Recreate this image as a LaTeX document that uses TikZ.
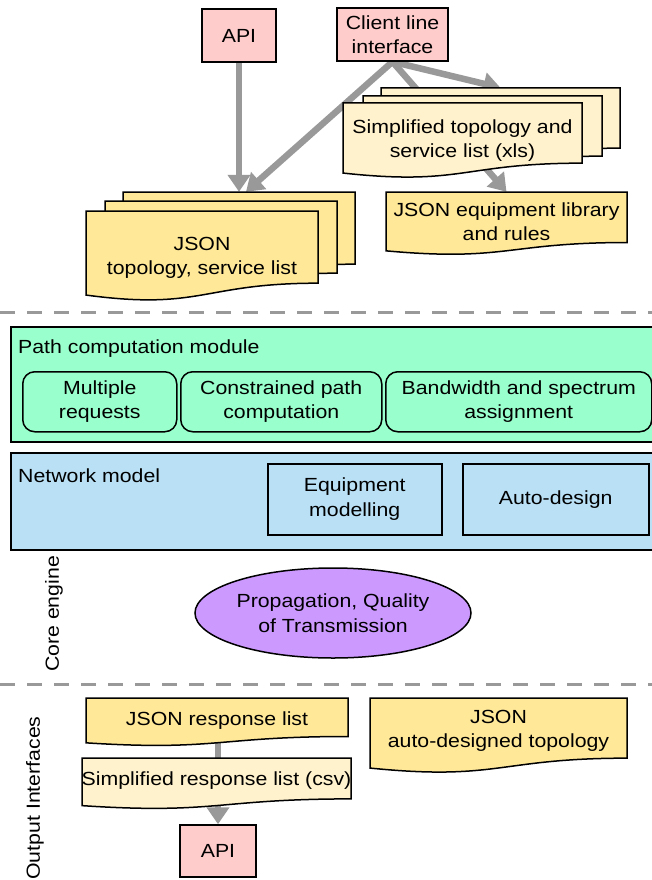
\documentclass[tikz,border=0pt]{standalone}
\usepackage{fontspec}
\setmainfont[FakeStretch=1.12]{Liberation Sans}
\usetikzlibrary{arrows.meta,shapes.geometric,backgrounds,calc}
\definecolor{pinkc}{HTML}{FFCCCC}
\definecolor{jsonc}{HTML}{FFE999}
\definecolor{lightc}{HTML}{FFF2CC}
\definecolor{mintc}{HTML}{99FFCC}
\definecolor{bluec}{HTML}{B9E0F5}
\definecolor{violc}{HTML}{CC99FF}
\definecolor{grayc}{HTML}{999999}
\tikzset{
  docline/.style={draw=black, line width=1.5pt},
  pinkbox/.style={draw=black, line width=1.5pt, fill=pinkc, align=center, inner sep=0pt},
  arr/.style={draw=grayc, line width=6.5pt, -{Triangle[length=17pt,width=22pt]}},
  plainarr/.style={draw=grayc, line width=6.5pt},
  sepline/.style={draw=grayc, line width=3pt, dash pattern=on 15pt off 12pt},
  bigpanel/.style={draw=black, line width=1.5pt, anchor=north west, inner sep=0pt},
  subbox/.style={draw=black, line width=1.5pt, align=center, inner sep=0pt, anchor=north west},
  lbl/.style={anchor=west, inner sep=0pt},
}
% #1 name, #2 x, #3 y, #4 w, #5 h, #6 fill, #7 text-centre factor, #8 text
\newcommand\mydoc[8]{%
  \path[docline, fill=#6] (#2,#3) -- ({#2+#4},#3) -- ({#2+#4},{#3+0.802*#5})
    .. controls ({#2+0.5*#4},{#3+0.802*#5}) and ({#2+0.5*#4},{#3+1.1075*#5}) .. (#2,{#3+0.934*#5}) -- cycle;
  \node[align=center, inner sep=0pt, minimum width=#4, minimum height={2*#7*#5}] (#1) at ({#2+0.5*#4},{#3+#7*#5}) {#8};
}
\begin{document}
\begin{tikzpicture}[x=1pt,y=-1pt,font=\fontsize{19}{24.5}\selectfont]
\useasboundingbox (0,0) rectangle (652,880);

% top interfaces
\node[pinkbox, minimum width=74, minimum height=53] (api) at (239,35.5) {API};
\node[pinkbox, minimum width=111, minimum height=53] (cli) at (392.5,34.5) {Client line\\interface};

% topology stack
\mydoc{tb}{123}{192}{232}{90}{jsonc}{0.5}{}
\mydoc{tm}{105}{201}{232}{90}{jsonc}{0.5}{}
\mydoc{tf}{86}{211}{232}{90}{jsonc}{0.52}{JSON\\topology, service list}

% xls stack
\mydoc{xb}{381}{88}{239}{75}{lightc}{0.5}{}
\mydoc{xm}{363}{96}{239}{75}{lightc}{0.5}{}
\mydoc{xf}{343}{103}{239}{75}{lightc}{0.5}{Simplified topology and\\service list (xls)}

% equipment library
\mydoc{lib}{386}{192}{241}{63}{jsonc}{0.47}{JSON equipment library\\and rules}

\begin{pgfonlayer}{background}
  \draw[arr] (api.south) -- (api.south |- tb.north);
  \draw[arr] (cli.south) -- ($(tb.north west)!0.53!(tb.north east)$);
  \draw[arr] (cli.south) -- (xb.north);
  \draw[arr] (cli.south) -- (lib.north);
\end{pgfonlayer}

% separators
\coordinate (s1a) at (0,312);
\coordinate (s1b) at (652,312);
\coordinate (s2a) at (0,684);
\coordinate (s2b) at (652,684);
\draw[sepline] (s1a) -- (s1b);
\draw[sepline] (s2a) -- (s2b);

% path computation module
\node[bigpanel, fill=mintc, minimum width=655, minimum height=115] (pcm) at (10,326) {};
\node[lbl] (pcml) at (18,349) {Path computation module};
\node[subbox, fill=mintc, rounded corners=12pt, minimum width=154, minimum height=60] (mr) at (22,371) {Multiple\\requests};
\node[subbox, fill=mintc, rounded corners=12pt, minimum width=201, minimum height=60] (cp) at (180,371) {Constrained path\\computation};
\node[subbox, fill=mintc, rounded corners=12pt, minimum width=266, minimum height=60] (bw) at (385,371) {Bandwidth and spectrum\\assignment};

% network model
\node[bigpanel, fill=bluec, minimum width=655, minimum height=97] (nm) at (10,452) {};
\node[lbl] (nml) at (18,476) {Network model};
\node[subbox, fill=bluec, minimum width=174, minimum height=71] (em) at (267,463) {Equipment\\modelling};
\node[subbox, fill=bluec, minimum width=186, minimum height=71] (ad) at (462,463) {Auto-design};

% propagation
\node[ellipse, draw=black, line width=1.5pt, fill=violc, minimum width=276, minimum height=90, align=center, inner sep=0pt] (qot) at (333,613) {Propagation, Quality\\of Transmission};

\node[rotate=90, inner sep=0pt] (core) at (54,614) {Core engine};
\node[rotate=90, inner sep=0pt] (outi) at (35,798) {Output Interfaces};

% outputs
\mydoc{resp}{86}{698}{262}{48}{jsonc}{0.46}{JSON response list}
\mydoc{csv}{82}{758}{269}{51}{lightc}{0.44}{Simplified response list (csv)}
\mydoc{auto}{370}{698}{257}{75}{jsonc}{0.44}{JSON\\auto-designed topology}
\node[pinkbox, minimum width=76, minimum height=52] (api2) at (218,851) {API};

\begin{pgfonlayer}{background}
  \draw[plainarr] (api2.north |- resp.south) -- (api2.north |- csv.north);
  \draw[arr] (api2.north |- csv.south) -- (api2.north);
\end{pgfonlayer}
\end{tikzpicture}
\end{document}
